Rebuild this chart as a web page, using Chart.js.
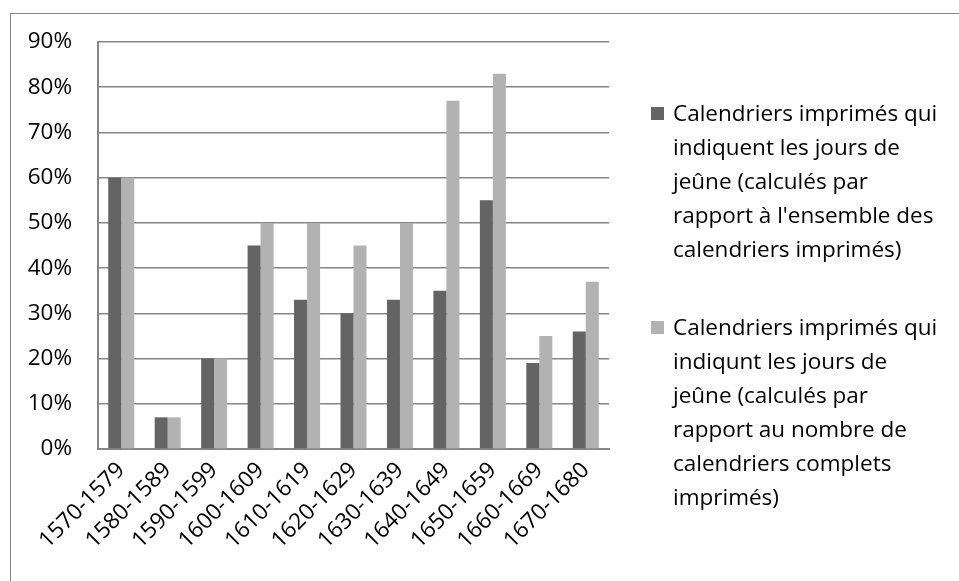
<!DOCTYPE html>
<html>
<head>
<meta charset="utf-8">
<script src="https://cdn.jsdelivr.net/npm/chart.js@4.4.1/dist/chart.umd.min.js"></script>
<style>
  html, body { margin: 0; padding: 0; background: #fff; }
  #wrap { position: relative; width: 959px; height: 581px; overflow: hidden; }
  #frame { position: absolute; left: 10px; top: 13px; width: 1000px; height: 700px; border: 1.5px solid #868686; box-sizing: border-box; }
  canvas { position: absolute; left: 0; top: 0; }
  #legend { position: absolute; left: 651px; top: 96px; font-family: "Open Sans", sans-serif; font-size: 22.5px; line-height: 34px; color: #000; }
  .item { position: relative; padding-left: 22px; margin-bottom: 44px; }
  .box { position: absolute; left: 0; top: 11px; width: 13px; height: 13px; }
</style>
</head>
<body>
<div id="wrap">
  <div id="frame"></div>
  <canvas id="chart" width="959" height="581"></canvas>
  <div id="legend"></div>
</div>
<script>
const categories = ['1570-1579', '1580-1589', '1590-1599', '1600-1609', '1610-1619', '1620-1629',
  '1630-1639', '1640-1649', '1650-1659', '1660-1669', '1670-1680'];
const allPrinted = [60, 7, 20, 45, 33, 30, 33, 35, 55, 19, 26];
const completePrinted = [60, 7, 20, 50, 50, 45, 50, 77, 83, 25, 37];
const seriesNames = [
  ["Calendriers imprimés qui", "indiquent les jours de", "jeûne (calculés par", "rapport à l'ensemble des", "calendriers imprimés)"],
  ["Calendriers imprimés qui", "indiqunt les jours de", "jeûne (calculés par", "rapport au nombre de", "calendriers complets", "imprimés)"]
];
const colors = ['#646464', '#b2b2b2'];

const font = { family: '"Open Sans", sans-serif', size: 22.5 };

new Chart(document.getElementById('chart'), {
  type: 'bar',
  data: {
    labels: categories,
    datasets: [
      { label: seriesNames[0].join(' '), data: allPrinted, backgroundColor: colors[0] },
      { label: seriesNames[1].join(' '), data: completePrinted, backgroundColor: colors[1] }
    ]
  },
  options: {
    responsive: false,
    animation: false,
    layout: { padding: { top: 42, right: 350, left: 0, bottom: 0 } },
    datasets: { bar: { barPercentage: 1, categoryPercentage: 0.56 } },
    plugins: { legend: { display: false }, tooltip: { enabled: false } },
    scales: {
      x: {
        grid: { display: false, drawTicks: false },
        border: { display: true, color: '#868686', width: 2 },
        ticks: { color: '#000', font: font, minRotation: 45, maxRotation: 45, padding: 8, autoSkip: false },
        afterFit: (s) => { s.height = 132; }
      },
      y: {
        min: 0, max: 90,
        grid: { color: '#868686', lineWidth: 1.5, drawTicks: false },
        border: { display: true, color: '#868686', width: 2 },
        ticks: { stepSize: 10, color: '#000', font: font, padding: 26, callback: (v) => v + '%' },
        afterFit: (s) => { s.width = 98; }
      }
    }
  }
});

const legend = document.getElementById('legend');
seriesNames.forEach((lines, i) => {
  const item = document.createElement('div');
  item.className = 'item';
  const box = document.createElement('span');
  box.className = 'box';
  box.style.background = colors[i];
  item.appendChild(box);
  lines.forEach((t) => {
    const d = document.createElement('div');
    d.textContent = t;
    item.appendChild(d);
  });
  legend.appendChild(item);
});
</script>
</body>
</html>
